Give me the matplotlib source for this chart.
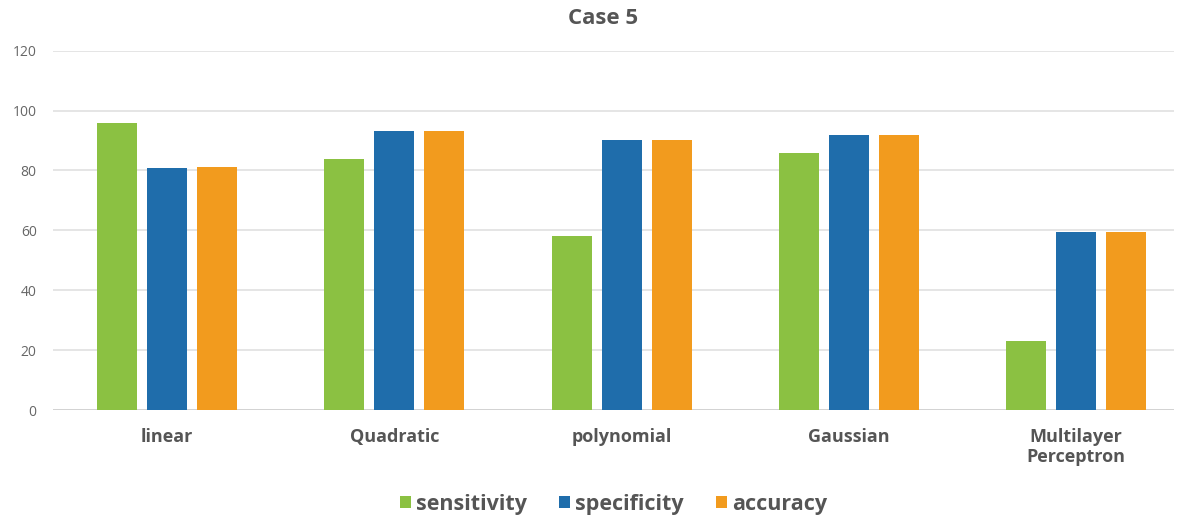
import matplotlib.pyplot as plt
import numpy as np

# Classifier results for case 5
classifiers = ['linear', 'Quadratic', 'polynomial', 'Gaussian', 'Multilayer\nPerceptron']
sensitivity = [96.0, 83.7, 58.1, 85.9, 23.1]
specificity = [80.7, 93.2, 90.2, 91.9, 59.3]
accuracy = [81.3, 93.2, 90.2, 91.9, 59.3]

series = [('sensitivity', sensitivity, '#8bc142'),
          ('specificity', specificity, '#1f6dab'),
          ('accuracy', accuracy, '#f29b1e')]

plt.rcParams['font.family'] = ['Open Sans', 'DejaVu Sans']

fig = plt.figure(figsize=(11.87, 5.2), dpi=100)
ax = fig.add_axes([0.045, 0.2115, 0.944, 0.691])

x = np.arange(len(classifiers))
step = 0.22
width = 0.176
for i, (name, vals, color) in enumerate(series):
    ax.bar(x + (i - 1) * step, vals, width, color=color, label=name, zorder=3)

ax.set_xlim(-0.5, len(classifiers) - 0.57)
ax.set_ylim(0, 120)
ax.set_yticks(range(0, 121, 20))
ax.yaxis.grid(True, color='#e0e0e0', linewidth=1.2, zorder=0)
ax.axhline(0, color='#d0d0d0', linewidth=1.2, zorder=2)
for s in ax.spines.values():
    s.set_visible(False)
ax.tick_params(axis='both', length=0)
ax.tick_params(axis='y', labelsize=10, labelcolor='#666666', pad=12)

ax.set_xticks(x)
ax.set_xticklabels(classifiers, fontsize=13, fontweight='bold', color='#555555',
                   linespacing=1.15)
ax.tick_params(axis='x', pad=13)

fig.text(0.508, 0.965, 'Case 5', ha='center', va='center',
         fontsize=16, fontweight='bold', color='#555555')

leg = fig.legend(loc='center', bbox_to_anchor=(0.517, 0.03), ncol=3, frameon=False,
                 handlelength=0.5, handleheight=0.5, handletextpad=0.25,
                 columnspacing=1.5, prop={'size': 15.5, 'weight': 'bold'})
for t in leg.get_texts():
    t.set_color('#555555')

fig.savefig('out.png', dpi=100)
